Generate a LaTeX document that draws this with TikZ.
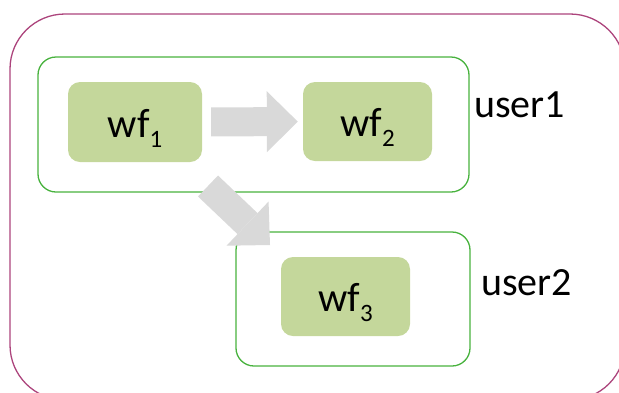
\documentclass[tikz,border=0pt]{standalone}
\usepackage{fontspec}
\setmainfont{Carlito}
\usepackage{tikz}
\usetikzlibrary{arrows.meta}

\definecolor{outerline}{RGB}{172,68,124}
\definecolor{userline}{RGB}{72,178,62}
\definecolor{wffill}{RGB}{196,215,155}
\definecolor{flowgray}{RGB}{217,217,217}

\newcommand{\wf}[1]{wf\raisebox{-0.25em}{\fontsize{25}{25}\selectfont #1}}

\tikzset{
    userbox/.style={draw=userline, line width=1.3pt, rounded corners=18pt, inner sep=0pt},
    wfbox/.style={fill=wffill, rounded corners=12pt, inner sep=0pt,
        text height=30pt, text depth=0pt, font=\fontsize{41}{41}\selectfont},
    userlabel/.style={anchor=base west, inner sep=0pt, font=\fontsize{40}{40}\selectfont},
    flow/.style={flowgray, line width=29pt,
        -{Triangle[length=31pt, width=61pt, line width=0pt]}}
}

\begin{document}
\begin{tikzpicture}[x=1pt, y=-1pt]
        \useasboundingbox (0, 0) rectangle (619, 392);
        \draw[outerline, line width=1.3pt, rounded corners=55pt] (10, 14) rectangle (625, 400);

        \node[userbox, minimum width=431pt, minimum height=135pt] (user1) at (253.5, 124.5) {};
        \node[userbox, minimum width=234pt, minimum height=134pt] (user2) at (353, 299) {};
        \node[userlabel] (user1label) at (474, 117) {user1};
        \node[userlabel] (user2label) at (481, 295) {user2};

        \node[wfbox, minimum width=134pt, minimum height=80pt] (wf1) at (135, 122) {\wf{1}};
        \node[wfbox, minimum width=129pt, minimum height=79pt] (wf2) at (367.5, 121.5) {\wf{2}};
        \node[wfbox, minimum width=129pt, minimum height=79pt] (wf3) at (345.5, 296.5) {\wf{3}};

        \draw[flow, shorten <=9pt, shorten >=5pt] (wf1) -- (wf2);
        \coordinate (down1) at (208, 186);
        \coordinate (down2) at (270, 245);
        \draw[flow] (down1) -- (down2);
    \end{tikzpicture}
\end{document}
